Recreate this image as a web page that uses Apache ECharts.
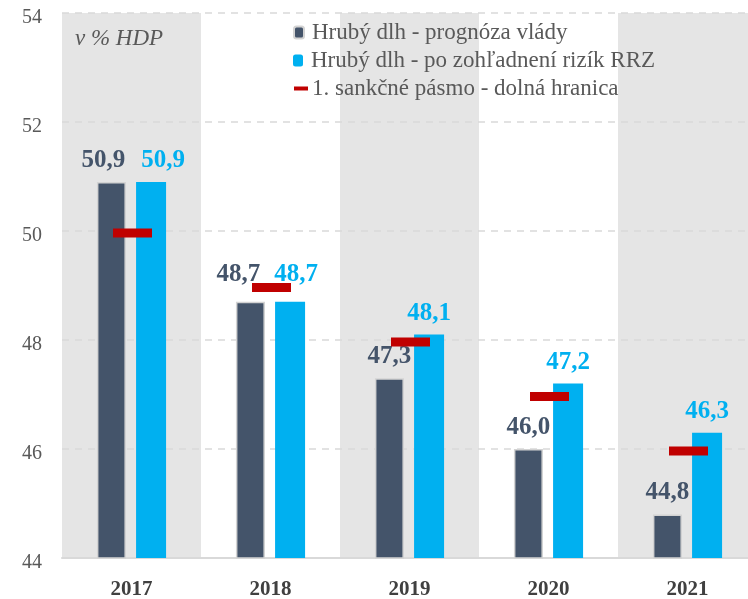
<!DOCTYPE html>
<html>
<head>
<meta charset="utf-8">
<script src="https://cdn.jsdelivr.net/npm/echarts@6/dist/echarts.min.js"></script>
<style>
  html, body { margin: 0; padding: 0; background: #fff; }
  #chart { width: 748px; height: 599px; }
</style>
</head>
<body>
<div id="chart"></div>
<script>
// data
const years = ['2017', '2018', '2019', '2020', '2021'];
const govDebt = [50.9, 48.7, 47.3, 46.0, 44.8];
const riskDebt = [50.9, 48.7, 48.1, 47.2, 46.3];
const sanctionBand = [50, 49, 48, 47, 46];
const shadedYears = [54, '-', 54, '-', 54];

const font = 'Liberation Serif';
const darkBlue = '#44546A';
const cyan = '#00B0F0';
const red = '#C00000';

const fmt = p => p.value.toFixed(1).replace('.', ',');

// labels of 2017 and 2018 are pushed apart so they don't collide
const govOffsets = [[-8, 0], [-12, -6], [0, 0], [0, 0], [0, 0]];
const riskOffsets = [[12, 0], [6, -6], [0, 0], [0, 0], [0, 0]];

let myChart = echarts.init(document.getElementById('chart'));
const legendText = { fontFamily: font, fontSize: 23, color: '#595959' };
let option = {
  animation: false,
  textStyle: { fontFamily: font },
  // the last column runs past the right edge of the picture
  grid: { left: 62, width: 695, top: 13, bottom: 41, outerBoundsMode: 'none', containLabel: false },
  graphic: [{
    type: 'text', left: 75, top: 27,
    style: { text: 'v % HDP', fontFamily: font, fontStyle: 'italic', fontSize: 23, fill: '#595959' }
  }],
  legend: [
    { data: ['Hrubý dlh - prognóza vlády'], left: 293, top: 21, padding: 0, itemWidth: 10, itemHeight: 12, itemGap: 4,
      textStyle: Object.assign({ padding: [0, 0, 0, 3] }, legendText) },
    { data: ['Hrubý dlh - po zohľadnení rizík RRZ'], left: 293, top: 49, padding: 0, itemWidth: 10, itemHeight: 12,
      textStyle: Object.assign({ padding: [0, 0, 0, 3] }, legendText) },
    { data: ['1. sankčné pásmo - dolná hranica'], left: 294, top: 77, padding: 0, itemWidth: 14, itemHeight: 4, icon: 'rect',
      textStyle: Object.assign({ padding: [0, 0, 0, -1] }, legendText) }
  ],
  xAxis: [{
    type: 'category', data: years,
    axisTick: { show: false },
    axisLine: { lineStyle: { color: '#D9D9D9', width: 2 } },
    axisLabel: { margin: 21, fontFamily: font, fontSize: 21, fontWeight: 'bold', color: '#404040' }
  }, {
    type: 'category', data: years, show: false
  }],
  yAxis: {
    type: 'value', min: 44, max: 54, interval: 2,
    axisLine: { show: false }, axisTick: { show: false },
    axisLabel: { margin: 20, fontFamily: font, fontSize: 20, color: '#595959',
      verticalAlign: 'top', lineHeight: 10 },
    splitLine: { lineStyle: { color: '#D9D9D9', type: [7, 6], width: 1.5 } }
  },
  series: [
    {
      name: 'bands', type: 'bar', xAxisIndex: 1, data: shadedYears,
      barWidth: '100%', barCategoryGap: 0, silent: true, z: -1,
      itemStyle: { color: '#E5E5E5' }
    },
    {
      name: 'Hrubý dlh - prognóza vlády', type: 'bar',
      data: govDebt.map((v, i) => ({ value: v, label: { offset: govOffsets[i] } })),
      barWidth: 29, barGap: '35%',
      itemStyle: { color: darkBlue, borderColor: '#D3D3D3', borderWidth: 1.5 },
      label: { show: true, position: 'top', distance: 9, formatter: fmt,
        fontFamily: font, fontSize: 25, fontWeight: 'bold', color: darkBlue }
    },
    {
      name: 'Hrubý dlh - po zohľadnení rizík RRZ', type: 'bar',
      data: riskDebt.map((v, i) => ({ value: v, label: { offset: riskOffsets[i] } })),
      barWidth: 30,
      itemStyle: { color: cyan },
      label: { show: true, position: 'top', distance: 9, formatter: fmt,
        fontFamily: font, fontSize: 25, fontWeight: 'bold', color: cyan }
    },
    {
      name: '1. sankčné pásmo - dolná hranica', type: 'scatter', data: sanctionBand,
      symbol: 'rect', symbolSize: [39, 9], symbolOffset: [1, 2], z: 5,
      itemStyle: { color: red, opacity: 1 }
    }
  ]
};
option && myChart.setOption(option);
</script>
</body>
</html>
